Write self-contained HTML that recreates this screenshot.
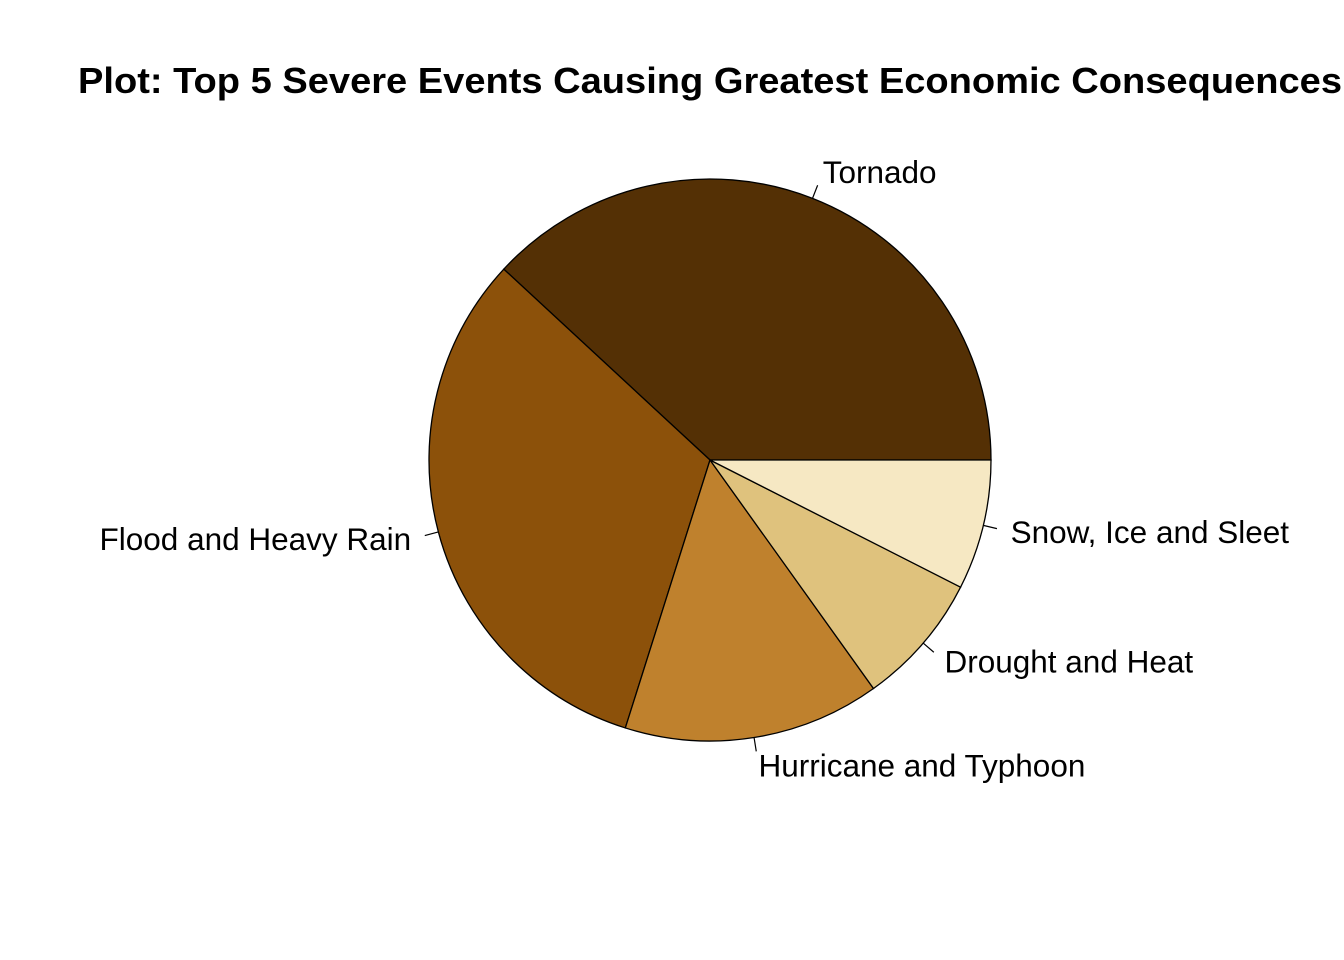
<!DOCTYPE html>
<html><head><meta charset="utf-8">
<style>
html,body{margin:0;padding:0;background:#fff;width:1344px;height:960px;overflow:hidden}
svg{display:block}
text{font-family:"Liberation Sans",Arial,sans-serif;fill:#000}
</style></head>
<body>
<svg id="chart" width="1344" height="960">
<text x="78" y="93" font-size="36" font-weight="bold" textLength="1264" lengthAdjust="spacingAndGlyphs">Plot: Top 5 Severe Events Causing Greatest Economic Consequences</text>
<g id="slices"></g>
<g id="labels"></g>
</svg>
<script>
const categories = ["Tornado","Flood and Heavy Rain","Hurricane and Typhoon","Drought and Heat","Snow, Ice and Sleet"];
const values = [0.381, 0.320, 0.1475, 0.0764, 0.0747];
const colors = ["#543005","#8C510A","#BF812D","#DFC27D","#F6E8C3"];

const cx = 710, cy = 460, r = 281;
const NS = "http://www.w3.org/2000/svg";
const total = values.reduce((a,b)=>a+b,0);
function pt(frac, rad){ const a = frac*2*Math.PI; return [cx + rad*Math.cos(a), cy - rad*Math.sin(a)]; }
const gS = document.getElementById('slices'), gL = document.getElementById('labels');
let cum = 0;
values.forEach((v,i)=>{
  const f0 = cum/total, f1 = (cum+v)/total; cum += v;
  const [x0,y0] = pt(f0,r), [x1,y1] = pt(f1,r);
  const large = (f1-f0) > 0.5 ? 1 : 0;
  const p = document.createElementNS(NS,'path');
  p.setAttribute('d', `M${cx},${cy} L${x0},${y0} A${r},${r} 0 ${large} 0 ${x1},${y1} Z`);
  p.setAttribute('fill', colors[i]);
  p.setAttribute('stroke', '#000');
  p.setAttribute('stroke-width', '1.3');
  
  
  gS.appendChild(p);
  const fm = (f0+f1)/2;
  const [ax,ay] = pt(fm, r), [bx,by] = pt(fm, r*1.05), [tx,ty] = pt(fm, r*1.1);
  const ln = document.createElementNS(NS,'line');
  ln.setAttribute('x1',ax); ln.setAttribute('y1',ay); ln.setAttribute('x2',bx); ln.setAttribute('y2',by);
  ln.setAttribute('stroke','#000'); ln.setAttribute('stroke-width','1.2');
  
  
  gL.appendChild(ln);
  const t = document.createElementNS(NS,'text');
  t.setAttribute('x', tx); t.setAttribute('y', ty + 11);
  t.setAttribute('font-size', '31.5');
  t.setAttribute('text-anchor', Math.cos(fm*2*Math.PI) > 0 ? 'start' : 'end');
  t.textContent = categories[i];
  
  
  gL.appendChild(t);
});
</script>
</body></html>
